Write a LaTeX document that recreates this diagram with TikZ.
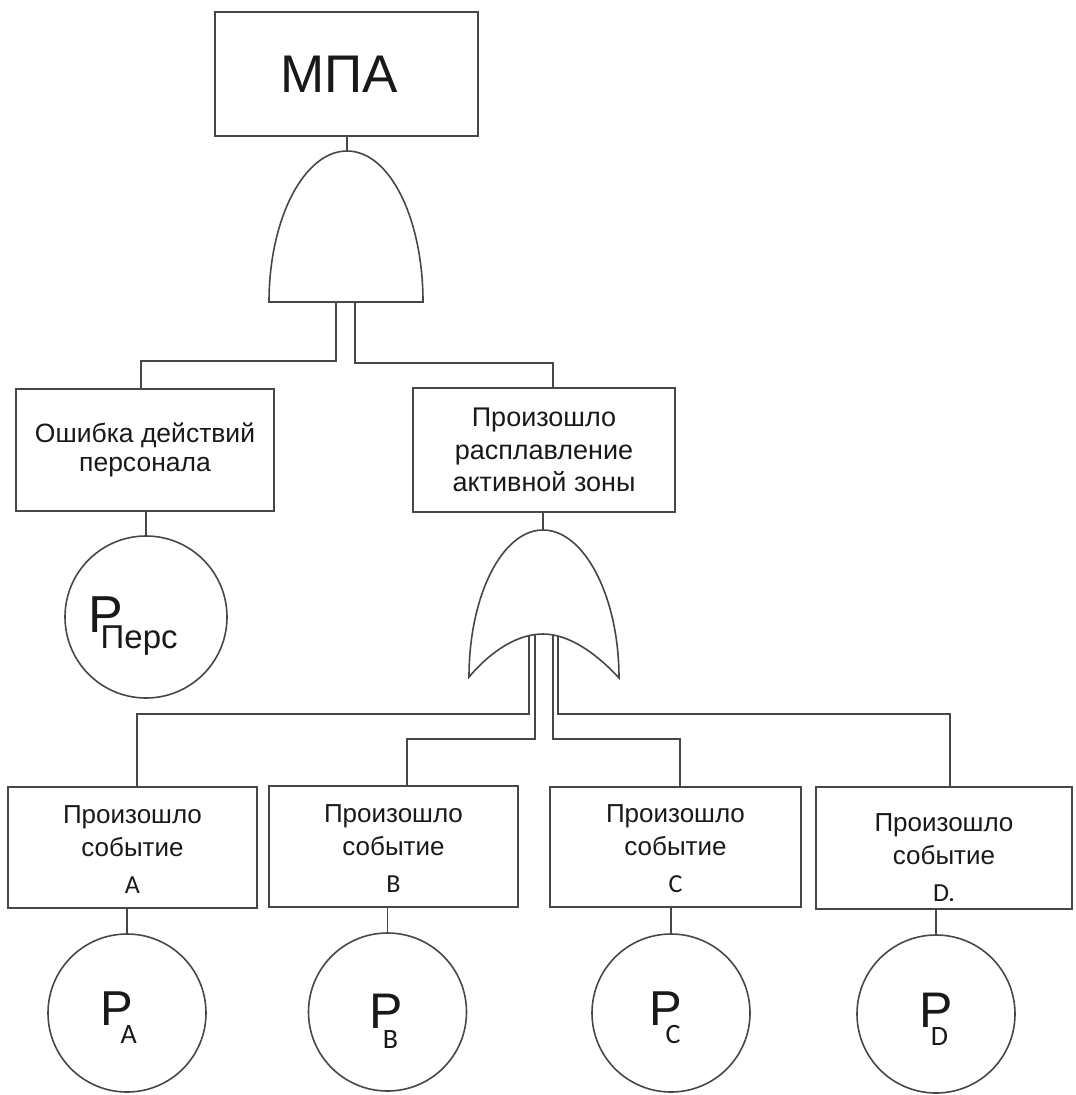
\documentclass[tikz,border=0pt]{standalone}
\usepackage{fontspec}
\setmainfont{Liberation Sans}
\newfontfamily\carl{Carlito}
\newcommand{\pmark}[7]{\raisebox{#1pt}[0pt][0pt]{\makebox[0pt][l]{\kern#2pt\fontsize{#3}{#3}\selectfont P\kern#4pt\raisebox{-#5pt}{\fontsize{#6}{#6}\selectfont #7}}}}
\begin{document}
\begin{tikzpicture}[x=1pt,y=-1pt,
  ln/.style={draw=black!72, line width=1.6pt},
  ebox/.style={ln, rectangle, inner sep=0pt, align=center, text=black!90},
  pcirc/.style={ln, circle, inner sep=0pt, minimum size=158pt, text=black!90},
  evbox/.style={ebox, font=\fontsize{26}{33}\selectfont}]
\useasboundingbox (0,0) rectangle (1076,1095);

% top event
\node[ebox, minimum width=263pt, minimum height=124pt,
      font=\fontsize{53}{60}\selectfont] (mpa) at (346.5,74) {\raisebox{-4pt}{МПА}\kern14pt};

% AND gate
\coordinate (andtop) at (347,151);
\coordinate (andL) at (336,302);
\coordinate (andR) at (355,302);
\draw[ln] (269,302) .. controls (269,219) and (304,151) .. (347,151)
  .. controls (390,151) and (423,219) .. (423,302) -- cycle;
\draw[ln] (mpa.south -| andtop) -- (andtop);

% second level
\node[ebox, minimum width=258pt, minimum height=122pt,
      font=\fontsize{26.5}{29}\selectfont] (err) at (145,450) {Ошибка действий\\персонала};
\node[ebox, minimum width=262pt, minimum height=124pt,
      font=\fontsize{27}{32.5}\selectfont] (melt) at (544,450) {Произошло\\расплавление\\активной зоны};

\draw[ln] (andL) -- (336,361) -| (141,0 |- err.north);
\draw[ln] (andR) -- (355,363) -| (553,0 |- melt.north);

% personnel probability
\node[pcirc, minimum size=162pt] (pp) at (146,617) {\pmark{-15}{-58}{52}{-22}{16}{33}{Перс}};
\draw[ln] (pp.north |- err.south) -- (pp.north);

% OR gate
\coordinate (ortop) at (543,530);
\coordinate (or1) at (529,636);
\coordinate (or2) at (535,635);
\coordinate (or3) at (553,635);
\coordinate (or4) at (558,636);
\draw[ln] (469,677) .. controls (469,596) and (502,530) .. (543,530)
  .. controls (584,530) and (619,596) .. (619,678)
  .. controls (595,652) and (568,634) .. (543,634)
  .. controls (518,634) and (492,650) .. (469,677) -- cycle;
\draw[ln] (melt.south -| ortop) -- (ortop);

% bottom events
\node[evbox, minimum width=249pt, minimum height=121pt] (ea) at (132.5,847.5) {\rule{0pt}{22pt}Произошло\\событие\\[4pt]{\carl A}};
\node[evbox, minimum width=249pt, minimum height=121pt] (eb) at (393.5,846.5) {\rule{0pt}{22pt}Произошло\\событие\\[4pt]{\carl B}};
\node[evbox, minimum width=251pt, minimum height=120pt] (ec) at (675.5,847) {\rule{0pt}{22pt}Произошло\\событие\\[4pt]{\carl C}};
\node[evbox, minimum width=256pt, minimum height=122pt] (ed) at (944,848) {\rule{0pt}{38pt}Произошло\\событие\\[4pt]{\carl D.}};

\draw[ln] (or1) -- (529,714) -| (137,0 |- ea.north);
\draw[ln] (or2) -- (535,739) -| (407,0 |- eb.north);
\draw[ln] (or3) -- (553,739) -| (680,0 |- ec.north);
\draw[ln] (or4) -- (558,714) -| (950,0 |- ed.north);

% bottom probabilities
\node[pcirc] (pa) at (127,1013)   {\pmark{-12}{-27}{49}{-12}{18}{28}{\carl A}};
\node[pcirc] (pb) at (387.5,1012) {\pmark{-16}{-18.5}{50}{-19.5}{20}{28}{\carl B}};
\node[pcirc] (pc) at (671,1013)   {\pmark{-12}{-22}{49}{-16}{18}{28}{\carl C}};
\node[pcirc] (pd) at (936,1014)   {\pmark{-13}{-17}{50}{-21.5}{18}{28}{\carl D}};

\draw[ln] (pa.north |- ea.south) -- (pa.north);
\draw[ln] (pb.north |- eb.south) -- (pb.north);
\draw[ln] (pc.north |- ec.south) -- (pc.north);
\draw[ln] (pd.north |- ed.south) -- (pd.north);
\end{tikzpicture}
\end{document}
